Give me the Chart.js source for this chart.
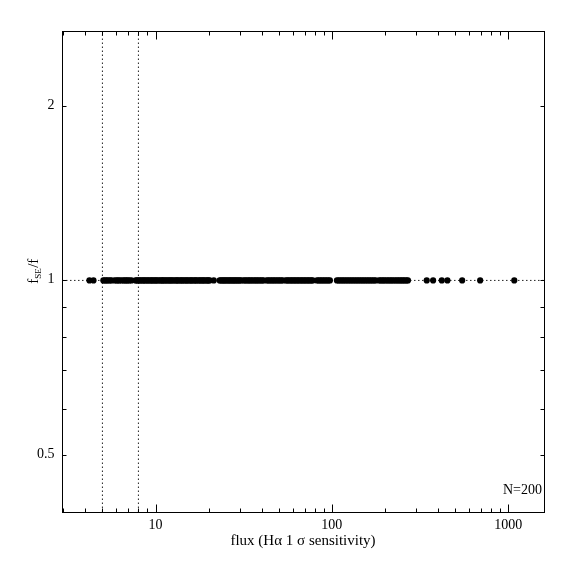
<!DOCTYPE html>
<html>
<head>
<meta charset="utf-8">
<script src="https://cdn.jsdelivr.net/npm/chart.js@4.4.1/dist/chart.umd.min.js"></script>
<style>
  html, body { margin: 0; padding: 0; background: #fff; }
  #wrap { width: 574px; height: 574px; }
</style>
</head>
<body>
<div id="wrap"><canvas id="chart"></canvas></div>
<script>
// flux of each source (H-alpha 1 sigma sensitivity units)
const fluxValues = [
  4.22, 4.45,
  5.06, 5.16, 5.27, 5.37, 5.51, 5.62,
  5.85, 6.01, 6.12, 6.25, 6.41,
  6.58, 6.71, 6.84, 6.97, 7.12, 7.31,
  7.70, 7.85, 7.96, 8.12, 8.24, 8.41, 8.53, 8.70, 8.82, 9.01,
  9.14, 9.33, 9.48, 9.62, 9.80, 9.97, 10.1, 10.3, 10.5, 10.7,
  10.9, 11.0, 11.2, 11.4, 11.6, 11.8, 12.0, 12.2, 12.4, 12.6,
  12.9, 13.1, 13.3, 13.5, 13.8, 14.0, 14.2, 14.5, 14.7, 15.0,
  15.2, 15.5, 15.8, 16.0, 16.3, 16.6, 16.9, 17.1, 17.5, 17.8,
  18.1, 18.4, 18.7, 19.0, 19.4, 19.7, 20.0, 20.3,
  21.4,
  23.1, 23.5, 23.9, 24.3, 24.7, 25.1, 25.5, 26.0, 26.4, 26.8,
  27.3, 27.7, 28.2, 28.6, 29.1, 29.6, 30.1, 30.6,
  31.6, 32.2, 32.9, 33.6, 34.2, 34.9, 35.6, 36.4, 37.1, 37.8,
  38.6, 39.4, 40.2, 41.0,
  42.7, 43.6, 44.5, 45.5, 46.4, 47.4, 48.4, 49.5, 50.5, 51.6, 52.7,
  54.8, 55.8, 56.9, 58.0, 59.1, 60.2, 61.3, 62.5, 63.6, 64.8,
  66.0, 67.3, 68.5, 69.8, 71.1, 72.5, 73.8, 75.2, 76.6, 78.0,
  82.3, 84.1, 85.9, 87.7, 89.6, 91.5, 93.5, 95.5, 97.5,
  106.8, 109.2, 111.6, 114.1, 116.6, 119.2, 121.9, 124.6, 127.4, 130.2,
  133.1, 136.1, 139.1, 142.2, 145.4, 148.6, 151.9, 155.3, 158.8, 162.3,
  165.9, 169.6, 173.4, 177.3,
  185, 189, 193, 197, 201, 206, 210, 215, 219, 224,
  229, 234, 239, 244, 249, 254, 259, 265, 270,
  345, 375, 420, 452, 548, 693, 1082
];

// f_SE / f for each source
const ratioValues = [
  1, 1, 1, 1, 1, 1, 1, 1, 1, 1, 1, 1, 1, 1, 1, 1, 1, 1, 1, 1,
  1, 1, 1, 1, 1, 1, 1, 1, 1, 1, 1, 1, 1, 1, 1, 1, 1, 1, 1, 1,
  1, 1, 1, 1, 1, 1, 1, 1, 1, 1, 1, 1, 1, 1, 1, 1, 1, 1, 1, 1,
  1, 1, 1, 1, 1, 1, 1, 1, 1, 1, 1, 1, 1, 1, 1, 1, 1, 1, 1, 1,
  1, 1, 1, 1, 1, 1, 1, 1, 1, 1, 1, 1, 1, 1, 1, 1, 1, 1, 1, 1,
  1, 1, 1, 1, 1, 1, 1, 1, 1, 1, 1, 1, 1, 1, 1, 1, 1, 1, 1, 1,
  1, 1, 1, 1, 1, 1, 1, 1, 1, 1, 1, 1, 1, 1, 1, 1, 1, 1, 1, 1,
  1, 1, 1, 1, 1, 1, 1, 1, 1, 1, 1, 1, 1, 1, 1, 1, 1, 1, 1, 1,
  1, 1, 1, 1, 1, 1, 1, 1, 1, 1, 1, 1, 1, 1, 1, 1, 1, 1, 1, 1,
  1, 1, 1, 1, 1, 1, 1, 1, 1, 1, 1, 1, 1, 1, 1, 1, 1, 1, 1, 1
];

// axis limits and ticks
const xMin = 2.95, xMax = 1595;
const yMin = 0.399, yMax = 2.69;
const xMajorTicks = [10, 100, 1000];
const xMinorTicks = [3, 4, 5, 6, 7, 8, 9, 20, 30, 40, 50, 60, 70, 80, 90,
                     200, 300, 400, 500, 600, 700, 800, 900];
const yMajorTicks = [0.5, 1, 2];
const yMinorTicks = [0.6, 0.7, 0.8, 0.9];

// dotted reference lines
const refFlux = [5, 8];
const refRatio = 1;

const labelFont = '14px "Liberation Serif", serif';
const titleFont = '15px "Liberation Serif", serif';

// Draws the boxed frame with inward ticks and labels (PGPLOT style)
const frameAxes = {
  id: 'frameAxes',
  afterDatasetsDraw(chart) {
    const ctx = chart.ctx;
    const a = chart.chartArea;
    const xs = chart.scales.x, ys = chart.scales.y;
    const L = Math.round(a.left) + 0.5, R = Math.round(a.right) + 0.5;
    const T = Math.round(a.top) + 0.5, B = Math.round(a.bottom) + 0.5;

    ctx.save();
    ctx.strokeStyle = '#000';
    ctx.lineWidth = 1;
    ctx.strokeRect(L, T, R - L, B - T);

    ctx.beginPath();
    const xTick = (v, len) => {
      const px = Math.round(xs.getPixelForValue(v)) + 0.5;
      ctx.moveTo(px, B); ctx.lineTo(px, B - len);
      ctx.moveTo(px, T); ctx.lineTo(px, T + len);
    };
    const yTick = (v, len) => {
      const py = Math.round(ys.getPixelForValue(v)) + 0.5;
      ctx.moveTo(L, py); ctx.lineTo(L + len, py);
      ctx.moveTo(R, py); ctx.lineTo(R - len, py);
    };
    xMajorTicks.forEach(v => xTick(v, 8));
    xMinorTicks.forEach(v => xTick(v, 4));
    yMajorTicks.forEach(v => yTick(v, 4));
    yMinorTicks.forEach(v => yTick(v, 4));
    ctx.stroke();

    ctx.fillStyle = '#000';
    ctx.font = labelFont;
    ctx.textBaseline = 'alphabetic';
    ctx.textAlign = 'center';
    xMajorTicks.forEach(v => {
      ctx.fillText(String(v), xs.getPixelForValue(v), a.bottom + 17);
    });
    ctx.textAlign = 'right';
    yMajorTicks.forEach(v => {
      ctx.fillText(String(v), a.left - 7.5, ys.getPixelForValue(v) + 3);
    });

    // x axis title
    ctx.font = titleFont;
    ctx.textAlign = 'center';
    ctx.fillText('flux (H\u03b1 1 \u03c3 sensitivity)', (a.left + a.right) / 2, a.bottom + 33);

    // sample size
    ctx.font = labelFont;
    ctx.textAlign = 'right';
    ctx.fillText('N=200', a.right - 2, a.bottom - 18);

    // y axis title: f_SE/f, rotated
    ctx.translate(38, (a.top + a.bottom) / 2);
    ctx.rotate(-Math.PI / 2);
    ctx.textAlign = 'left';
    const subFont = '9px "Liberation Serif", serif';
    ctx.font = titleFont;
    const w1 = ctx.measureText('f').width;
    const w3 = ctx.measureText('/f').width;
    ctx.font = subFont;
    const w2 = ctx.measureText('SE').width;
    let x0 = -(w1 + w2 + w3) / 2;
    ctx.font = titleFont;
    ctx.fillText('f', x0, 0);
    ctx.font = subFont;
    ctx.fillText('SE', x0 + w1, 3);
    ctx.font = titleFont;
    ctx.fillText('/f', x0 + w1 + w2 + 0.5, 0);
    ctx.restore();
  }
};

const points = fluxValues.map((f, i) => ({ x: f, y: ratioValues[i] }));

const dotted = {
  type: 'scatter',
  showLine: true,
  pointRadius: 0,
  borderColor: '#222',
  borderWidth: 1,
  borderDash: [1.5, 2.5],
  order: 2
};

new Chart(document.getElementById('chart'), {
  type: 'scatter',
  data: {
    datasets: [
      {
        label: 'sources',
        data: points,
        pointRadius: 3.1,
        pointBackgroundColor: '#000',
        pointBorderWidth: 0,
        order: 0
      },
      Object.assign({}, dotted, {
        data: [{ x: xMin, y: refRatio }, { x: xMax, y: refRatio }]
      }),
      Object.assign({}, dotted, {
        data: [{ x: refFlux[0], y: yMin }, { x: refFlux[0], y: yMax }]
      }),
      Object.assign({}, dotted, {
        data: [{ x: refFlux[1], y: yMin }, { x: refFlux[1], y: yMax }]
      })
    ]
  },
  options: {
    responsive: true,
    maintainAspectRatio: false,
    devicePixelRatio: 1,
    animation: false,
    layout: { padding: { left: 62, top: 31, right: 30, bottom: 62 } },
    plugins: { legend: { display: false }, tooltip: { enabled: false } },
    scales: {
      x: { type: 'logarithmic', min: xMin, max: xMax, display: false },
      y: { type: 'logarithmic', min: yMin, max: yMax, display: false }
    }
  },
  plugins: [frameAxes]
});
</script>
</body>
</html>
